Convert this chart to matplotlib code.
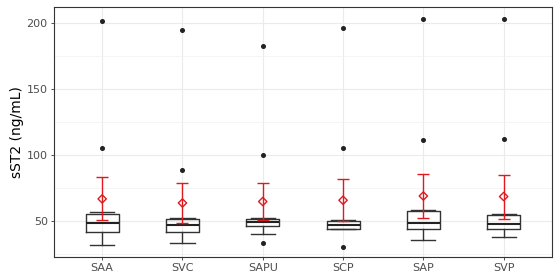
import matplotlib
matplotlib.use("Agg")
import matplotlib.pyplot as plt
import numpy as np

groups = ["SAA", "SVC", "SAPU", "SCP", "SAP", "SVP"]

# boxplot stats
whislo = [31.9, 33.6, 40.2, 43.7, 35.4, 37.9]
q1 = [41.5, 41.5, 46.2, 43.7, 43.7, 43.7]
med = [48.7, 47.0, 49.5, 47.2, 48.7, 47.7]
q3 = [55.5, 51.7, 51.7, 50.2, 57.6, 54.8]
whishi = [56.6, 52.5, 52.5, 50.8, 58.3, 55.5]
outliers = [
    [201.5, 105.7],
    [195.2, 89.1],
    [182.6, 100.4, 33.4],
    [196.5, 105.7, 30.6],
    [203.3, 111.8],
    [203.3, 112.5],
]

# mean +/- error bar
means = [66.9, 63.8, 64.9, 65.9, 69.1, 68.7]
err_lo = [50.8, 48.7, 50.8, 50.2, 52.5, 52.0]
err_hi = [83.3, 79.2, 79.0, 81.8, 85.5, 85.0]

fig = plt.figure(figsize=(5.6, 2.8), dpi=100)
ax = fig.add_axes([0.0964, 0.082, 0.889, 0.893])

x = np.arange(1, len(groups) + 1)

stats = []
for i, g in enumerate(groups):
    stats.append(dict(label=g, whislo=whislo[i], q1=q1[i], med=med[i],
                      q3=q3[i], whishi=whishi[i], fliers=outliers[i]))

ax.bxp(stats, positions=x, widths=0.41, showfliers=True,
       boxprops=dict(color="#333333", linewidth=1.0),
       medianprops=dict(color="#222222", linewidth=1.5),
       whiskerprops=dict(color="#333333", linewidth=1.0),
       capprops=dict(color="#333333", linewidth=1.0),
       capwidths=0.3,
       flierprops=dict(marker="o", markersize=2.6, markerfacecolor="#222222",
                       markeredgecolor="#222222"),
       zorder=3)

yerr = [np.array(means) - np.array(err_lo), np.array(err_hi) - np.array(means)]
ax.errorbar(x, means, yerr=yerr, fmt="none", ecolor="#E0191F",
            elinewidth=1.0, capsize=4.0, capthick=1.0, zorder=4)
ax.scatter(x, means, marker="D", s=18, facecolors="none",
           edgecolors="#E0191F", linewidths=1.0, zorder=5)

ax.set_xlim(0.4, 6.6)
ax.set_ylim(22.8, 212.5)
ax.set_xticks(x)
ax.set_xticklabels(groups)
ax.set_yticks([50, 100, 150, 200])
ax.set_yticks([25, 75, 125, 175], minor=True)

ax.grid(True, which="major", color="#EBEBEB", linewidth=0.8, zorder=0)
ax.grid(True, which="minor", axis="y", color="#F2F2F2", linewidth=0.5, zorder=0)
ax.set_axisbelow(True)

for s in ax.spines.values():
    s.set_color("#333333")
    s.set_linewidth(0.8)

ax.tick_params(axis="both", which="major", length=2.5, width=0.6,
               color="#333333", labelsize=8, labelcolor="#4D4D4D", pad=2)
ax.tick_params(axis="both", which="minor", length=0)
ax.set_ylabel("sST2 (ng/mL)", fontsize=10, color="black", labelpad=2)

fig.savefig("out.png", dpi=100)
